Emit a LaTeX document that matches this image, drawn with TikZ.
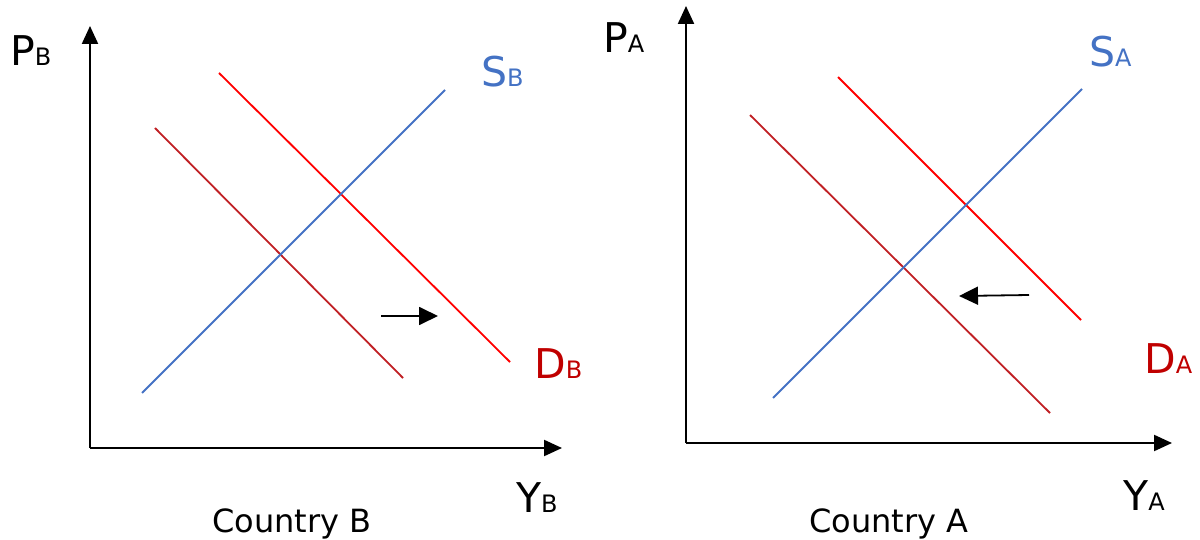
\documentclass[tikz,border=0pt]{standalone}
\usepackage{fontspec}
\setmainfont{DejaVu Sans}
\usetikzlibrary{arrows.meta}
\definecolor{sblue}{RGB}{68,114,196}
\definecolor{dred}{RGB}{255,0,0}
\definecolor{ddark}{RGB}{192,32,36}
\definecolor{lred}{RGB}{192,0,0}
\tikzset{
  axis/.style={line width=2.2pt,-{Triangle[length=18pt,width=16pt]}},
  shiftarrow/.style={line width=1.8pt,-{Triangle[length=19pt,width=18pt]}},
  supply/.style={line width=1.8pt,sblue},
  demand/.style={line width=1.8pt,dred},
  demandold/.style={line width=1.8pt,ddark},
  lbl/.style={anchor=base west,inner sep=0pt,font=\fontsize{41}{41}\selectfont},
  captiontext/.style={anchor=base west,inner sep=0pt,font=\fontsize{32}{32}\selectfont}
}
\newcommand{\sbs}[1]{{\fontsize{24}{24}\selectfont #1}}
\begin{document}
\begin{tikzpicture}[x=1pt,y=-1pt]
\useasboundingbox (0,0) rectangle (1200,540);
% ---------- Country B ----------
\coordinate (oB) at (90,448);
\coordinate (yBtop) at (90,26);
\coordinate (xBend) at (562,448);
\draw[axis] (oB) -- (yBtop);
\draw[axis] (oB) -- (xBend);
\coordinate (d0a) at (155,128); \coordinate (d0b) at (403,378);
\coordinate (d1a) at (219,73);  \coordinate (d1b) at (510,362);
\coordinate (sBa) at (142,393); \coordinate (sBb) at (445,90);
\draw[demandold] (d0a) -- (d0b);
\draw[demand] (d1a) -- (d1b);
\draw[supply] (sBa) -- (sBb);
\coordinate (aBs) at (381,316); \coordinate (aBe) at (438,316);
\draw[shiftarrow] (aBs) -- (aBe);
\node[lbl] (PB) at (10,66) {P\sbs{B}};
\node[lbl,text=sblue] (SB) at (481,87) {S\sbs{B}};
\node[lbl,text=lred] (DB) at (534,378) {D\sbs{B}};
\node[lbl] (YB) at (516,512) {Y\sbs{B}};
\node[captiontext] (CB) at (212,532) {Country B};
% ---------- Country A ----------
\coordinate (oA) at (686,443);
\coordinate (yAtop) at (686,6);
\coordinate (xAend) at (1172,443);
\draw[axis] (oA) -- (yAtop);
\draw[axis] (oA) -- (xAend);
\coordinate (e0a) at (750,115);  \coordinate (e0b) at (1050,413);
\coordinate (e1a) at (838,77);   \coordinate (e1b) at (1081,320);
\coordinate (sAa) at (773,398);  \coordinate (sAb) at (1082,89);
\draw[demandold] (e0a) -- (e0b);
\draw[demand] (e1a) -- (e1b);
\draw[supply] (sAa) -- (sAb);
\coordinate (aAs) at (1029,295); \coordinate (aAe) at (959,296);
\draw[shiftarrow] (aAs) -- (aAe);
\node[lbl] (PA) at (603,53) {P\sbs{A}};
\node[lbl,text=sblue] (SA) at (1089,67) {S\sbs{A}};
\node[lbl,text=lred] (DA) at (1144,373) {D\sbs{A}};
\node[lbl] (YA) at (1123,510) {Y\sbs{A}};
\node[captiontext] (CA) at (809,532) {Country A};
\end{tikzpicture}
\end{document}
